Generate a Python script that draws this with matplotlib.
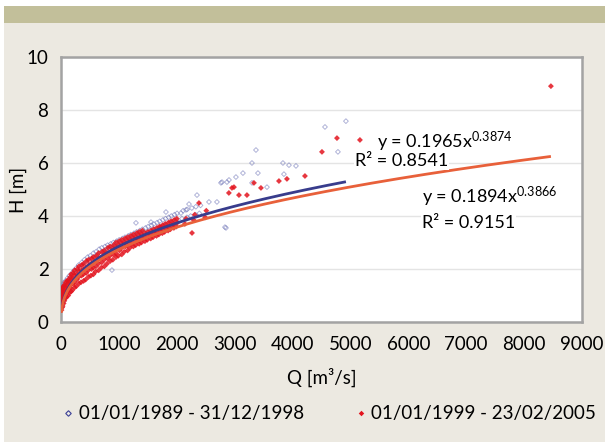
import numpy as np
import matplotlib
matplotlib.use("Agg")
import matplotlib.pyplot as plt
from matplotlib.patches import Rectangle
from matplotlib.lines import Line2D

plt.rcParams['font.family'] = ['Lato', 'DejaVu Sans']
plt.rcParams['mathtext.fontset'] = 'custom'
plt.rcParams['mathtext.rm'] = 'Lato'
plt.rcParams['mathtext.it'] = 'Lato'

# ---------------- data ----------------
series_labels = ["01/01/1989 - 31/12/1998", "01/01/1999 - 23/02/2005"]

# series 1: 1989-1998, (Q [m3/s], H [m])
pts1 = [
    (10, 1.00), (15, 1.30), (30, 1.15), (35, 1.40), (45, 1.20), (55, 1.50),
    (75, 1.30), (80, 1.55), (95, 1.40), (110, 1.65), (140, 1.50), (145, 1.75),
    (170, 1.65), (190, 1.85), (220, 1.75), (225, 1.95), (250, 1.85), (270, 2.05),
    (300, 1.90), (305, 2.15), (340, 2.00), (360, 2.25), (400, 2.10), (405, 2.35),
    (440, 2.20), (460, 2.45), (500, 2.30), (505, 2.50), (540, 2.35), (560, 2.60),
    (600, 2.45), (605, 2.65), (640, 2.50), (660, 2.75), (700, 2.55), (705, 2.80),
    (740, 2.65), (760, 2.85), (800, 2.70), (805, 2.90), (840, 2.75), (860, 2.95),
    (900, 2.80), (905, 3.00), (940, 2.85), (960, 3.05), (1000, 2.90), (1005, 3.10),
    (1040, 2.95), (1060, 3.15), (1100, 3.00), (1105, 3.20), (1140, 3.05), (1160, 3.25),
    (1200, 3.10), (1205, 3.30), (1240, 3.15), (1260, 3.35), (1300, 3.20), (1305, 3.40),
    (1340, 3.25), (1360, 3.45), (1400, 3.30), (1405, 3.50), (1440, 3.35), (1460, 3.55),
    (1500, 3.40), (1505, 3.60), (1540, 3.45), (1560, 3.65), (1600, 3.50), (1605, 3.70),
    (1640, 3.50), (1660, 3.75), (1700, 3.55), (1705, 3.80), (1740, 3.60), (1760, 3.85),
    (1800, 3.65), (1805, 3.90), (1840, 3.70), (1860, 3.95), (1900, 3.75), (1905, 4.00),
    (1940, 3.80), (1960, 4.05), (2000, 3.85), (2005, 4.10), (2090, 3.90), (2110, 4.20),
    (2175, 3.95), (2180, 4.25), (2240, 4.00), (2260, 4.30), (2325, 4.05), (2330, 4.35),
    (2390, 4.10), (2410, 4.40),
    (880, 1.96), (1295, 3.74), (1554, 3.77), (1813, 4.15), (2072, 4.11), (2159, 4.23),
    (2211, 4.45), (2349, 4.79), (2556, 4.53), (2694, 4.53), (2763, 5.25), (2867, 5.28),
    (3022, 5.47), (3143, 5.62), (3300, 5.25), (2832, 3.58), (2850, 3.55), (3368, 6.49),
    (3299, 6.00), (3834, 6.00), (3938, 5.92), (4059, 5.89), (3851, 5.58), (3402, 5.62),
    (3558, 5.09), (2902, 5.36), (2781, 5.28), (4922, 7.58), (4560, 7.36), (4784, 6.42),
]

# series 2: 1999-2005, (Q [m3/s], H [m])
pts2 = [
    (8, 0.45), (12, 0.70), (6, 0.95), (5, 1.20), (20, 0.55), (22, 0.80), (18, 1.05),
    (20, 1.25), (28, 0.60), (35, 0.85), (25, 1.10), (32, 1.30), (45, 0.70), (42, 0.95),
    (48, 1.15), (45, 1.35), (58, 0.80), (65, 1.00), (55, 1.20), (62, 1.40), (80, 0.90),
    (78, 1.10), (82, 1.30), (80, 1.50), (95, 0.95), (105, 1.15), (98, 1.35), (110, 1.55),
    (125, 1.00), (122, 1.25), (128, 1.45), (125, 1.60), (145, 1.10), (155, 1.30),
    (150, 1.50), (160, 1.70), (175, 1.15), (172, 1.40), (178, 1.60), (175, 1.80),
    (195, 1.20), (205, 1.45), (200, 1.65), (210, 1.85), (235, 1.30), (232, 1.50),
    (238, 1.75), (235, 1.95), (265, 1.35), (275, 1.60), (270, 1.80), (280, 2.00),
    (310, 1.45), (305, 1.70), (315, 1.90), (310, 2.10), (345, 1.50), (355, 1.75),
    (350, 1.95), (360, 2.15), (390, 1.55), (385, 1.80), (395, 2.00), (390, 2.20),
    (425, 1.60), (435, 1.85), (430, 2.05), (440, 2.30), (475, 1.70), (470, 1.95),
    (480, 2.15), (475, 2.35), (515, 1.75), (525, 2.00), (520, 2.20), (530, 2.40),
    (560, 1.80), (555, 2.05), (565, 2.25), (560, 2.45), (595, 1.90), (605, 2.10),
    (600, 2.30), (610, 2.50), (650, 1.95), (645, 2.20), (655, 2.40), (650, 2.60),
    (695, 2.05), (705, 2.25), (700, 2.45), (710, 2.65), (750, 2.10), (745, 2.35),
    (755, 2.55), (750, 2.70), (795, 2.20), (805, 2.40), (800, 2.60), (810, 2.80),
    (850, 2.30), (845, 2.50), (855, 2.65), (850, 2.85), (895, 2.35), (905, 2.55),
    (900, 2.75), (910, 2.90), (950, 2.45), (945, 2.60), (955, 2.80), (950, 3.00),
    (990, 2.50), (1010, 2.70), (995, 2.90), (1005, 3.05), (1050, 2.55), (1045, 2.80),
    (1055, 2.95), (1050, 3.10), (1090, 2.65), (1110, 2.85), (1095, 3.00), (1105, 3.15),
    (1150, 2.70), (1145, 2.90), (1155, 3.05), (1150, 3.20), (1190, 2.80), (1210, 2.95),
    (1195, 3.10), (1205, 3.25), (1250, 2.85), (1245, 3.00), (1255, 3.15), (1250, 3.30),
    (1290, 2.90), (1310, 3.05), (1295, 3.20), (1305, 3.35), (1350, 2.95), (1345, 3.10),
    (1355, 3.25), (1350, 3.40), (1390, 3.00), (1410, 3.15), (1395, 3.30), (1405, 3.45),
    (1450, 3.05), (1445, 3.20), (1455, 3.35), (1490, 3.10), (1510, 3.25), (1500, 3.40),
    (1550, 3.15), (1545, 3.30), (1555, 3.45), (1590, 3.20), (1610, 3.35), (1600, 3.50),
    (1650, 3.25), (1645, 3.40), (1655, 3.55), (1690, 3.30), (1710, 3.45), (1700, 3.60),
    (1750, 3.35), (1745, 3.50), (1755, 3.65), (1790, 3.40), (1810, 3.55), (1800, 3.70),
    (1850, 3.45), (1845, 3.60), (1855, 3.75), (1890, 3.50), (1910, 3.65), (1900, 3.80),
    (1950, 3.55), (1945, 3.70), (1955, 3.85), (1990, 3.60), (2010, 3.75), (2000, 3.90),
    (2140, 3.70), (2160, 3.90), (2290, 3.85), (2310, 4.05), (2490, 3.95), (2510, 4.20),
    (2263, 3.36), (1727, 3.58), (2383, 4.49), (2900, 4.87), (2988, 5.09), (3074, 4.79),
    (3212, 4.79), (3333, 5.25), (2953, 5.06), (3454, 5.06), (3765, 5.32), (3903, 5.40),
    (4214, 5.51), (4508, 6.42), (4767, 6.94), (5164, 6.87), (8463, 8.90),
]

# power trend lines y = a * x^b (from the chart labels)
fit_a = [0.1965, 0.1894]
fit_b = [0.3874, 0.3866]
fit_r2 = ["0.8541", "0.9151"]

x_ticks = [0, 1000, 2000, 3000, 4000, 5000, 6000, 7000, 8000, 9000]
y_ticks = [0, 2, 4, 6, 8, 10]

q1 = np.array([p[0] for p in pts1], float)
h1 = np.array([p[1] for p in pts1], float)
q2 = np.array([p[0] for p in pts2], float)
h2 = np.array([p[1] for p in pts2], float)

# ---------------- figure ----------------
W, H = 605, 442
fig = plt.figure(figsize=(W / 100, H / 100), dpi=100, facecolor='white')

def px(x0, y0, w, h):
    return (x0 / W, 1 - (y0 + h) / H, w / W, h / H)

fig.patches.append(Rectangle(px(4, 6, W - 4, H - 6)[:2], (W - 4) / W, (H - 6) / H,
                             transform=fig.transFigure, facecolor='#ECE9E1',
                             edgecolor='none', zorder=-10))
fig.patches.append(Rectangle(px(4, 6, W - 4, 17)[:2], (W - 4) / W, 17 / H,
                             transform=fig.transFigure, facecolor='#C2BF9A',
                             edgecolor='none', zorder=-9))

ax = fig.add_axes(px(61, 57, 521, 265))
ax.set_facecolor('white')

blue_pt = '#6A70B5'
red_pt = '#E3141E'

ax.scatter(q1, h1, marker='D', s=6, facecolors='none', edgecolors=blue_pt,
           linewidths=0.6, alpha=0.6, zorder=3)
ax.scatter(q2, h2, marker='D', s=9, facecolors=red_pt, edgecolors='none',
           alpha=0.85, zorder=4)

# trend lines
for q, a, b, col in [(q1, fit_a[0], fit_b[0], '#383C8C'),
                     (q2, fit_a[1], fit_b[1], '#E8603A')]:
    xx = np.linspace(q.min(), q.max(), 300)
    ax.plot(xx, a * xx ** b, color=col, lw=2.0, zorder=5, solid_capstyle='butt')

bb = dict(facecolor='white', edgecolor='none', pad=0.5)
ax.text(5458, 6.79, r'y = %sx$^{\mathrm{%s}}$' % (fit_a[0], fit_b[0]), fontsize=13,
        va='center', ha='left', zorder=6, bbox=bb)
ax.text(5078, 6.08, 'R² = ' + fit_r2[0], fontsize=13, va='center', ha='left',
        zorder=6, bbox=bb)
ax.text(6235, 4.72, r'y = %sx$^{\mathrm{%s}}$' % (fit_a[1], fit_b[1]), fontsize=13,
        va='center', ha='left', zorder=6, bbox=bb)
ax.text(6235, 3.74, 'R² = ' + fit_r2[1], fontsize=13, va='center', ha='left',
        zorder=6, bbox=bb)

ax.set_xlim(0, 9000)
ax.set_ylim(0, 10)
ax.set_xticks(x_ticks)
ax.set_yticks(y_ticks)
ax.tick_params(length=0, labelsize=13.5, pad=9, colors='black')
ax.tick_params(axis='x', pad=10)
ax.grid(axis='y', color='#E4E4E4', lw=1.0, zorder=0)
ax.set_axisbelow(True)
for s in ax.spines.values():
    s.set_color('#A3A3A3')
    s.set_linewidth(1.8)

fig.text(322 / W, 1 - 377 / H, 'Q [m³/s]', fontsize=13.5, ha='center', va='center')
fig.text(18 / W, 1 - 190 / H, 'H [m]', fontsize=13.5, ha='center', va='center',
         rotation=90)

handles = [Line2D([], [], marker='D', ls='none', markersize=2.8,
                  markerfacecolor='none', markeredgecolor='#3A3F96', markeredgewidth=0.8),
           Line2D([], [], marker='D', ls='none', markersize=2.8,
                  markerfacecolor=red_pt, markeredgecolor='none')]
fig.legend(handles, series_labels, loc='center', bbox_to_anchor=(330 / W, 1 - 414 / H),
           ncol=2, frameon=False, fontsize=13.5, handlelength=0.5, handletextpad=0.3,
           columnspacing=2.8, borderaxespad=0)

fig.savefig('out.png', dpi=100, facecolor=fig.get_facecolor())
